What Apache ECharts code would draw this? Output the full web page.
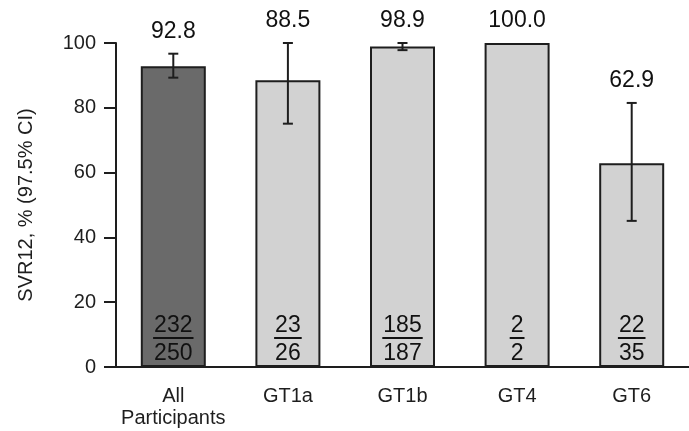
<!DOCTYPE html>
<html>
<head>
<meta charset="utf-8">
<script src="https://cdn.jsdelivr.net/npm/echarts@6/dist/echarts.min.js"></script>
<style>
  html, body { margin: 0; padding: 0; background: #fff; }
  #chart { width: 689px; height: 431px; }
</style>
</head>
<body>
<div id="chart"></div>
<script>
  // data
  var categories = ['All\nParticipants', 'GT1a', 'GT1b', 'GT4', 'GT6'];
  var svr = [92.8, 88.5, 98.9, 100.0, 62.9];
  var ciLow = [89.3, 75.1, 97.8, null, 45.1];
  var ciHigh = [96.7, 100.0, 100.0, null, 81.5];
  var responders = [232, 23, 185, 2, 22];
  var totals = [250, 26, 187, 2, 35];
  var yTicks = [0, 20, 40, 60, 80, 100];

  var font = 'Liberation Sans, Arial, Helvetica, sans-serif';
  var ink = '#1e1e1e';

  var barData = svr.map(function (v, i) {
    return {
      value: v,
      itemStyle: { color: i === 0 ? '#6a6a6a' : '#d2d2d2' }
    };
  });

  // [index, low, high, value] for error bars + value labels
  var errData = svr.map(function (v, i) {
    return [i, ciLow[i] == null ? v : ciLow[i], ciHigh[i] == null ? v : ciHigh[i], v];
  });

  var fracData = responders.map(function (r, i) {
    return [i, r, totals[i]];
  });

  var myChart = echarts.init(document.getElementById('chart'));
  var option = {
    animation: false,
    grid: { left: 116, right: 0, top: 43, bottom: 64 },
    xAxis: {
      type: 'category',
      data: categories,
      axisLine: { lineStyle: { color: ink, width: 2 } },
      axisTick: { show: false },
      axisLabel: {
        interval: 0,
        color: ink, fontSize: 20, fontFamily: font,
        lineHeight: 22, margin: 18
      }
    },
    yAxis: {
      type: 'value',
      min: yTicks[0],
      max: yTicks[yTicks.length - 1],
      interval: 20,
      name: 'SVR12, % (97.5% CI)',
      nameLocation: 'middle',
      nameGap: 80,
      nameTextStyle: { color: ink, fontSize: 20, fontFamily: font },
      axisLine: { show: true, lineStyle: { color: ink, width: 2 } },
      axisTick: { show: true, length: 12, lineStyle: { color: ink, width: 2 } },
      axisLabel: { color: ink, fontSize: 20, fontFamily: font, margin: 20 },
      splitLine: { show: false }
    },
    series: [
      {
        type: 'bar',
        data: barData,
        barWidth: 65,
        itemStyle: { borderColor: ink, borderWidth: 2 }
      },
      {
        type: 'custom',
        z: 5,
        data: errData,
        renderItem: function (params, api) {
          var i = api.value(0);
          var lo = api.coord([i, api.value(1)]);
          var hi = api.coord([i, api.value(2)]);
          var top = Math.min(hi[1], api.coord([i, api.value(3)])[1]);
          var cap = 5;
          var children = [];
          if (api.value(1) !== api.value(2)) {
            var ls = { stroke: ink, lineWidth: 2 };
            children.push(
              { type: 'line', shape: { x1: hi[0], y1: hi[1], x2: lo[0], y2: lo[1] }, style: ls },
              { type: 'line', shape: { x1: hi[0] - cap, y1: hi[1], x2: hi[0] + cap, y2: hi[1] }, style: ls },
              { type: 'line', shape: { x1: lo[0] - cap, y1: lo[1], x2: lo[0] + cap, y2: lo[1] }, style: ls }
            );
          }
          children.push({
            type: 'text',
            style: {
              text: api.value(3).toFixed(1),
              x: hi[0], y: top - 22,
              textAlign: 'center', textVerticalAlign: 'middle',
              fill: '#111', fontSize: 23, fontFamily: font
            }
          });
          return { type: 'group', children: children };
        }
      },
      {
        type: 'custom',
        z: 5,
        data: fracData,
        renderItem: function (params, api) {
          var i = api.value(0);
          var base = api.coord([i, 0]);
          var num = String(api.value(1));
          var den = String(api.value(2));
          var w = Math.max(num.length, den.length) * 12.8 + 2;
          return {
            type: 'group',
            children: [
              { type: 'text', style: { text: num, x: base[0], y: base[1] - 41, textAlign: 'center', textVerticalAlign: 'middle', fill: '#111', fontSize: 23, fontFamily: font } },
              { type: 'line', shape: { x1: base[0] - w / 2, y1: base[1] - 29, x2: base[0] + w / 2, y2: base[1] - 29 }, style: { stroke: '#111', lineWidth: 2 } },
              { type: 'text', style: { text: den, x: base[0], y: base[1] - 13, textAlign: 'center', textVerticalAlign: 'middle', fill: '#111', fontSize: 23, fontFamily: font } }
            ]
          };
        }
      }
    ]
  };
  myChart.setOption(option);
</script>
</body>
</html>
